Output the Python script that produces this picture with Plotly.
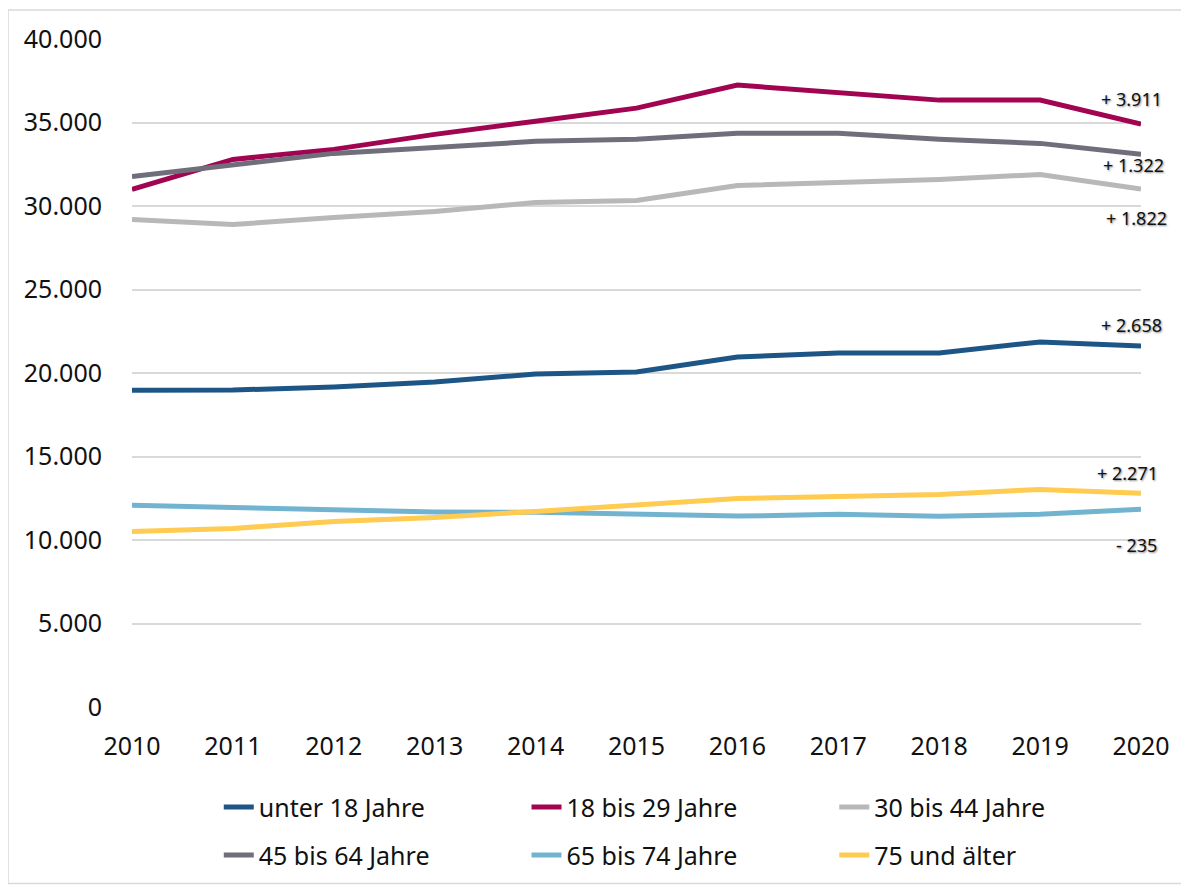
import plotly.graph_objects as go

years = [2010, 2011, 2012, 2013, 2014, 2015, 2016, 2017, 2018, 2019, 2020]
unter18 = [18960, 18980, 19160, 19460, 19940, 20060, 20960, 21200, 21200, 21860, 21618]
a18_29 = [30990, 32790, 33390, 34290, 35075, 35860, 37240, 36820, 36340, 36340, 34901]
a30_44 = [29190, 28890, 29310, 29670, 30210, 30330, 31230, 31410, 31590, 31890, 31012]
a45_64 = [31770, 32490, 33150, 33510, 33870, 33990, 34350, 34350, 33990, 33750, 33092]
a65_74 = [12080, 11950, 11800, 11680, 11660, 11560, 11430, 11540, 11420, 11540, 11845]
a75 = [10510, 10690, 11110, 11350, 11710, 12130, 12490, 12610, 12730, 13030, 12800]

names = ["unter 18 Jahre", "18 bis 29 Jahre", "30 bis 44 Jahre",
         "45 bis 64 Jahre", "65 bis 74 Jahre", "75 und älter"]
series = [unter18, a18_29, a30_44, a45_64, a65_74, a75]
colors = ["#1D5686", "#A10552", "#B8B8B8", "#6F6E7A", "#72B4D0", "#FFCB50"]
changes = ["+ 2.658", "+ 3.911", "+ 1.822", "+ 1.322", "- 235", "+ 2.271"]
label_shift = [(-10, 21), (-10, 25), (-5, -29), (-8, -11), (-5, -36), (-14, 20)]

FONT = "Noto Sans"
fig = go.Figure()
legend_ids = ["legend", "legend2", "legend3", "legend4", "legend5", "legend6"]
for n, s, c, lg in zip(names, series, colors, legend_ids):
    fig.add_trace(go.Scatter(x=years, y=s, name=n, mode="lines",
                             line=dict(color=c, width=5), legend=lg))

for s, t, (dx, dy) in zip(series, changes, label_shift):
    fig.add_annotation(x=years[-1], y=s[-1], text=t, showarrow=False,
                       xanchor="center", yanchor="middle", xshift=dx, yshift=dy,
                       font=dict(family=FONT, size=18, color="#111",
                                 shadow="1px 1px 2px rgba(0,0,0,0.45)"))

col_x = [0.086, 0.391, 0.696]
row_y = [-0.150, -0.222]
legend_layouts = {}
for i, lg in enumerate(legend_ids):
    legend_layouts[lg] = dict(orientation="h", x=col_x[i % 3], xanchor="left",
                              y=row_y[i // 3], yanchor="middle",
                              font=dict(family=FONT, size=25, color="#111"),
                              bgcolor="rgba(0,0,0,0)", borderwidth=0)

# page body has an 8px default margin; compensate so the plot area sits
# at the same page position as in the reference
fig.update_layout(
    width=1181, height=882,
    margin=dict(l=124, r=48, t=31, b=177),
    paper_bgcolor="white", plot_bgcolor="white",
    separators=",.",
    font=dict(family=FONT, size=25, color="#111"),
    xaxis=dict(range=[2010, 2020], tickvals=years, showgrid=False, zeroline=False,
               showline=False, ticks="", ticklabelstandoff=22,
               tickfont=dict(size=25)),
    yaxis=dict(range=[0, 40000], dtick=5000, tickformat=",d", showgrid=True,
               gridcolor="#D9D9D9", gridwidth=1.5, zeroline=False, showline=False,
               ticks="", ticklabelstandoff=29, tickfont=dict(size=25)),
    showlegend=True,
    **legend_layouts,
)
fig.add_shape(type="rect", xref="paper", yref="paper",
              x0=-0.1229, x1=1.0495, y0=-0.2643, y1=1.0435,
              line=dict(color="#D9D9D9", width=1.5), layer="below")

fig.write_html("out.html")
